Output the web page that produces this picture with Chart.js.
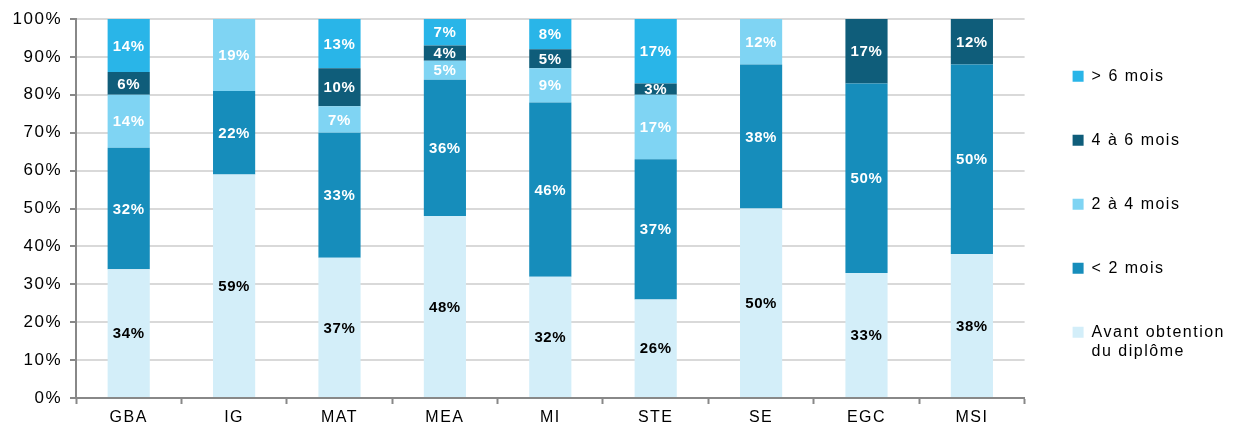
<!DOCTYPE html>
<html>
<head>
<meta charset="utf-8">
<script src="https://cdn.jsdelivr.net/npm/chart.js@4"></script>
<style>
  html, body { margin: 0; padding: 0; background: #fff; }
  #wrap { width: 1235px; height: 432px; }
</style>
</head>
<body>
<div id="wrap"><canvas id="myChart" width="1235" height="432"></canvas></div>
<script>
var categories = ['GBA', 'IG', 'MAT', 'MEA', 'MI', 'STE', 'SE', 'EGC', 'MSI'];
var seriesNames = ['Avant obtention du diplôme', '< 2 mois', '2 à 4 mois', '4 à 6 mois', '> 6 mois'];
var avant = [34, 59, 37, 48, 32, 26, 50, 33, 38];
var moins2 = [32, 22, 33, 36, 46, 37, 38, 50, 50];
var de2a4 = [14, 19, 7, 5, 9, 17, 12, 0, 0];
var de4a6 = [6, 0, 10, 4, 5, 3, 0, 17, 12];
var plus6 = [14, 0, 13, 7, 8, 17, 0, 0, 0];
var yTicks = [0, 10, 20, 30, 40, 50, 60, 70, 80, 90, 100];

var colors = ['#d3eef9', '#168dbb', '#7fd4f3', '#0f5d7a', '#29b5e8'];
var labelColors = ['#000', '#fff', '#fff', '#fff', '#fff'];
var allSeries = [avant, moins2, de2a4, de4a6, plus6];
var fontFam = 'Arial, "Liberation Sans", sans-serif';

// the original text is spaced out a little
var spacing = {
  id: 'spacing',
  beforeLayout: function(chart) { chart.ctx.letterSpacing = '1.5px'; },
  beforeDraw: function(chart) { chart.ctx.letterSpacing = '1.5px'; }
};

// legend sits a bit higher than the centred one
var legendNudge = {
  id: 'legendNudge',
  afterLayout: function(chart) {
    chart.legend.top -= 10;
    chart.legend.bottom -= 10;
  }
};

// writes the % value in the middle of each segment
var segmentLabels = {
  id: 'segmentLabels',
  afterDatasetsDraw: function(chart) {
    var ctx = chart.ctx;
    ctx.save();
    ctx.letterSpacing = '0.6px';
    ctx.font = 'bold 15px ' + fontFam;
    ctx.textAlign = 'center';
    ctx.textBaseline = 'middle';
    chart.data.datasets.forEach(function(ds, i) {
      var meta = chart.getDatasetMeta(i);
      meta.data.forEach(function(bar, j) {
        var v = ds.data[j];
        if (!v) return;
        var p = bar.getProps(['x', 'y', 'base'], true);
        ctx.fillStyle = labelColors[i];
        ctx.fillText(v + '%', p.x, (p.y + p.base) / 2 + 1);
      });
    });
    ctx.restore();
  }
};

var ctx = document.getElementById('myChart').getContext('2d');
var chart = new Chart(ctx, {
  type: 'bar',
  data: {
    labels: categories,
    datasets: allSeries.map(function(d, i) {
      return {
        label: seriesNames[i],
        data: d,
        backgroundColor: colors[i],
        borderWidth: 0,
        barPercentage: 0.40,
        categoryPercentage: 1.0
      };
    })
  },
  options: {
    responsive: false,
    animation: false,
    layout: { padding: { top: 19, right: 0, left: 0, bottom: 0 } },
    plugins: {
      tooltip: { enabled: false },
      legend: {
        position: 'right',
        reverse: true,
        labels: {
          color: '#000',
          font: { family: fontFam, size: 16 },
          boxWidth: 11,
          boxHeight: 11,
          padding: 48,
          generateLabels: function(chart) {
            var items = Chart.defaults.plugins.legend.labels.generateLabels(chart);
            items.forEach(function(it) {
              if (it.text === 'Avant obtention du diplôme') it.text = ['Avant obtention', 'du diplôme'];
              it.lineWidth = 0;
            });
            return items;
          }
        }
      }
    },
    scales: {
      x: {
        stacked: true,
        afterFit: function(axis) { axis.height = 34; },
        grid: { drawOnChartArea: false, drawTicks: true, tickLength: 6, tickColor: '#888', tickWidth: 2 },
        border: { color: '#888', width: 2 },
        ticks: { color: '#000', font: { family: fontFam, size: 16 }, padding: 4 }
      },
      y: {
        stacked: true,
        min: 0,
        max: 100,
        afterFit: function(axis) { axis.width = 76; },
        afterBuildTicks: function(axis) {
          axis.ticks = yTicks.map(function(v) { return { value: v }; });
        },
        grid: { color: '#d9d9d9', lineWidth: 2, tickLength: 6, tickColor: '#888', tickWidth: 2 },
        border: { color: '#888', width: 2 },
        ticks: {
          color: '#000',
          font: { family: fontFam, size: 17 },
          padding: 8,
          callback: function(value) { return value + '%'; }
        }
      }
    }
  },
  plugins: [spacing, legendNudge, segmentLabels]
});
</script>
</body>
</html>
